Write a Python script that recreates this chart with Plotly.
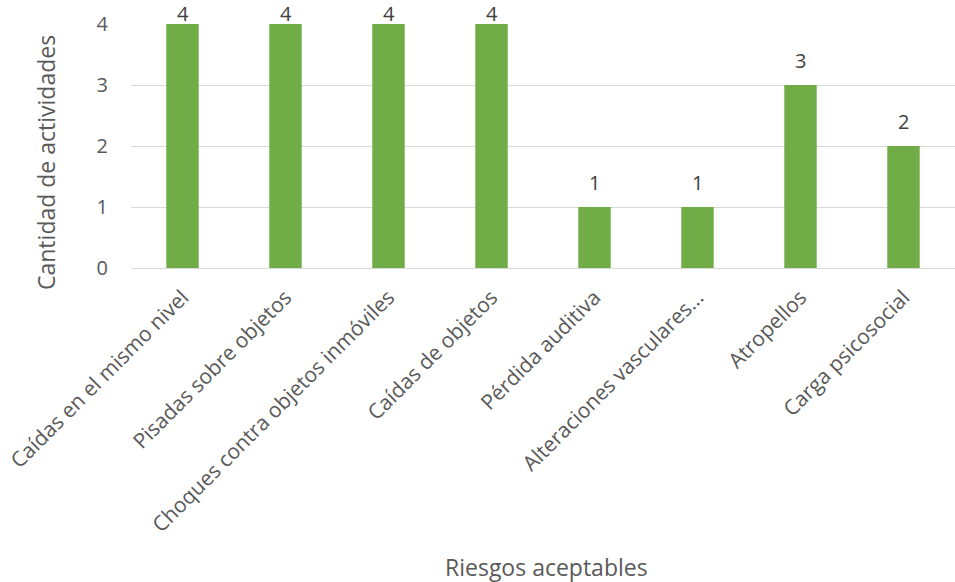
import plotly.graph_objects as go

categories = ["Caídas en el mismo nivel", "Pisadas sobre objetos", "Choques contra objetos inmóviles",
              "Caídas de objetos", "Pérdida auditiva", "Alteraciones vasculares...", "Atropellos",
              "Carga psicosocial"]
values = [4, 4, 4, 4, 1, 1, 3, 2]
y_ticks = [0, 1, 2, 3, 4]

FONT = "Open Sans"
ymax = max(y_ticks)
fig = go.Figure(go.Bar(
    x=categories, y=values, marker_color="#70AD47", marker_line_width=0,
))
annotations = []
for c, v in zip(categories, values):
    annotations.append(dict(x=c, y=v, xref="x", yref="y", text=str(v), showarrow=False,
                            yanchor="bottom", yshift=(-5 if v >= ymax else 9),
                            font=dict(family=FONT, size=20, color="#404040")))
annotations += [
    dict(text="Riesgos aceptables", xref="paper", yref="paper", x=(546-131)/824, y=-(567-268)/244,
         xanchor="center", yanchor="middle", showarrow=False, font=dict(size=23, color="#595959", family=FONT)),
    dict(text="Cantidad de actividades", xref="paper", yref="paper", x=-(131-46)/824, y=(268-163)/244,
         xanchor="center", yanchor="middle", textangle=-90, showarrow=False,
         font=dict(size=23, color="#595959", family=FONT)),
]
fig.update_layout(
    width=955, height=582, margin=dict(l=131, r=0, t=24, b=314),
    plot_bgcolor="white", paper_bgcolor="white", bargap=0.685, showlegend=False,
    font=dict(family=FONT, color="#595959"),
    xaxis=dict(tickangle=-45, tickfont=dict(size=21, color="#595959", family=FONT),
               showgrid=False, showline=False, ticks="", ticklabelstandoff=12),
    yaxis=dict(range=[0, ymax], tickvals=y_ticks, showgrid=True, gridcolor="#D9D9D9", gridwidth=1,
               zeroline=True, zerolinecolor="#D9D9D9", zerolinewidth=1,
               tickfont=dict(size=20, color="#595959", family=FONT), ticklabelstandoff=22),
    annotations=annotations,
)
fig.write_html("out.html")
